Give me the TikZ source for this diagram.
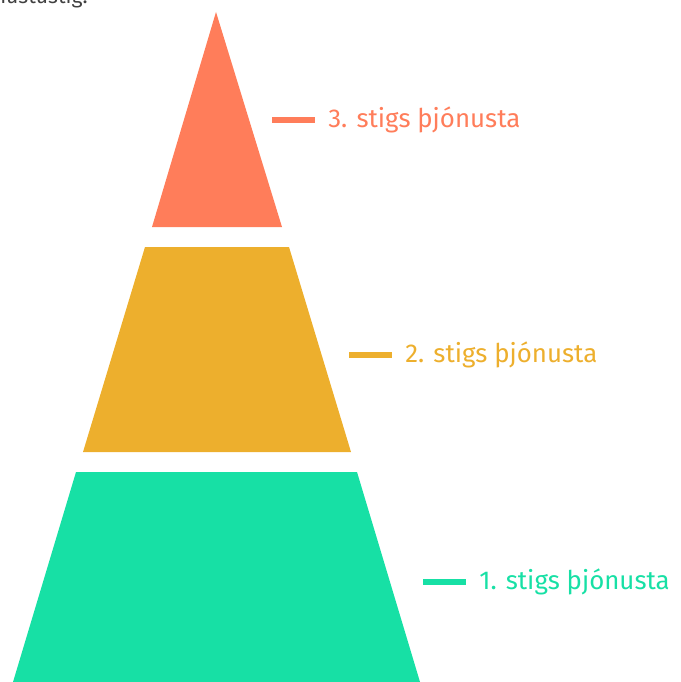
\documentclass[tikz,border=0pt]{standalone}
\usepackage{fontspec}
\setmainfont{Fira Sans}
\usetikzlibrary{positioning}
\definecolor{coral}{HTML}{FF7D5A}
\definecolor{gold}{HTML}{EDAF2D}
\definecolor{mint}{HTML}{17E0A5}

\begin{document}
\begin{tikzpicture}[x=0.02cm,y=-0.02cm,
 tag line/.style={line width=0.12cm},
 tag text/.style={anchor=west,inner sep=0pt,font=\fontsize{14.7}{17}\selectfont}]

  \useasboundingbox (0,0) rectangle (680,682);
  \clip (0,0) rectangle (680,682);

  \node[anchor=base east,inner sep=0pt,text=black!75,
   font=\fontsize{12}{14}\selectfont] (title) at (88,4) {þjónustustig.};

  \fill[coral] (216,12) -- (282,227) -- (152,227) -- cycle;
  \fill[gold] (145,247) -- (289,247) -- (351,452) -- (83,452) -- cycle;
  \fill[mint] (76,472) -- (357,472) -- (420,682) -- (13,682) -- cycle;

  \foreach \n/\c/\x/\y in {3/coral/272/120, 2/gold/349/355, 1/mint/423/582} {
   \coordinate (a\n) at (\x,\y);
   \coordinate (b\n) at (\x+43,\y);
   \draw[tag line,\c] (a\n) -- (b\n);
   \node[tag text,text=\c,right=0.26cm of b\n] (t\n) {\n. stigs þjónusta};}

\end{tikzpicture}
\end{document}
